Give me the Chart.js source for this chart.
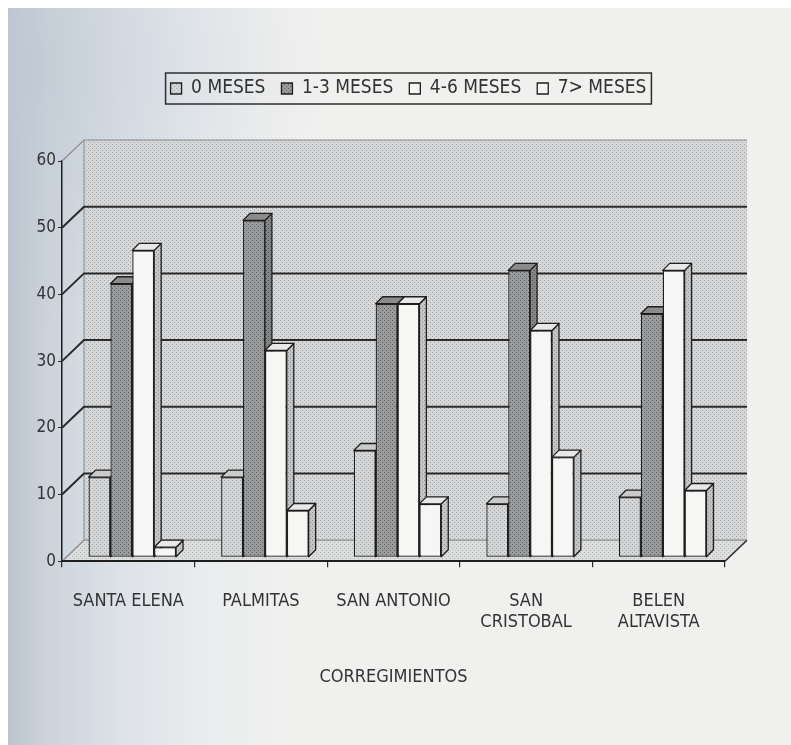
<!DOCTYPE html>
<html>
<head>
<meta charset="utf-8">
<title>Corregimientos</title>
<script src="https://cdn.jsdelivr.net/npm/chart.js@4.4.0/dist/chart.umd.min.js"></script>
<style>
  html, body { margin: 0; padding: 0; background: #fff; }
  #bg {
    position: absolute; left: 8px; top: 8px; right: 0; bottom: 0;
    background:
      radial-gradient(ellipse 320px 260px at 0px 60px, rgba(190, 200, 212, 0.55), rgba(190, 200, 212, 0) 100%),
      linear-gradient(90deg, #bcc4ce 0px, #ccd3db 40px, #dde2e8 110px, #e9ecee 190px, #f0f0ef 280px, #f0f0ef 100%);
  }
  #box { position: absolute; left: 0; top: 0; width: 791px; height: 745px; }
</style>
</head>
<body>
<div id="bg"></div>
<div id="box"><canvas id="chart"></canvas></div>
<script>
const categories = ['SANTA ELENA', 'PALMITAS', 'SAN ANTONIO', ['SAN', 'CRISTOBAL'], ['BELEN', 'ALTAVISTA']];
const seriesNames = ['0 MESES', '1-3 MESES', '4-6 MESES', '7> MESES'];
const meses0 = [12, 12, 16, 8, 9];
const meses1a3 = [41, 50.5, 38, 43, 36.5];
const meses4a6 = [46, 31, 38, 34, 43];
const meses7mas = [1.5, 7, 8, 15, 10];
const yTicks = [0, 10, 20, 30, 40, 50, 60];

const FONT = "'Liberation Sans Narrow', 'Arial Narrow', 'DejaVu Sans Condensed', sans-serif";
const INK = '#333';

// wall depth (front axis -> back wall) and bar offset inside that depth
const WALL_DX = 22, WALL_DY = -21;
const BAR_SHIFT_X = 4, BAR_SHIFT_Y = -4;
const BAR_DX = 7, BAR_DY = -7;
const LEGEND_SHIFT = 36;

// little halftone tiles, the printed look of the shading
function dots(base, dot) {
    const c = document.createElement('canvas');
    c.width = 4; c.height = 4;
    const g = c.getContext('2d');
    g.fillStyle = base;
    g.fillRect(0, 0, 4, 4);
    g.fillStyle = dot;
    g.fillRect(0, 0, 1, 1);
    g.fillRect(2, 2, 1, 1);
    return g.createPattern(c, 'repeat');
}

const wallFill = dots('#d6d7d8', '#a0a2a4');
const floorFill = dots('#dcdddd', '#b4b5b6');
const fronts = [dots('#d4d5d6', '#a2a3a4'), dots('#9a9b9c', '#5c5d5e'), '#f6f6f4', '#f6f6f4'];
const sides = [dots('#b8b9ba', '#858687'), dots('#858687', '#4a4b4c'), dots('#c4c5c6', '#8e8f90'), dots('#c4c5c6', '#8e8f90')];
const tops = ['#c9cacb', '#8a8b8c', '#e8e8e6', '#e8e8e6'];

const walls3d = {
    id: 'walls3d',
    beforeDatasetsDraw(chart) {
        const { ctx, chartArea: a, scales: { y } } = chart;
        const L = a.left, R = a.right, T = a.top, B = a.bottom;
        ctx.save();
        ctx.fillStyle = wallFill;
        ctx.fillRect(L + WALL_DX, T + WALL_DY, R - L, B - T);
        ctx.beginPath();
        ctx.moveTo(L, B - 1);
        ctx.lineTo(R, B - 1);
        ctx.lineTo(R + WALL_DX, B + WALL_DY);
        ctx.lineTo(L + WALL_DX, B + WALL_DY);
        ctx.closePath();
        ctx.fillStyle = floorFill;
        ctx.fill();

        // left edge of the back wall
        ctx.strokeStyle = '#8a8c8e';
        ctx.lineWidth = 1;
        ctx.beginPath();
        ctx.moveTo(L + WALL_DX, T + WALL_DY);
        ctx.lineTo(L + WALL_DX, B + WALL_DY);
        ctx.stroke();

        // gridlines: slanted on the side wall, flat on the back wall
        yTicks.forEach(v => {
            const py = y.getPixelForValue(v);
            const edge = v === 0 || v === 60;
            ctx.strokeStyle = edge ? '#8a8c8e' : '#2a2a2a';
            ctx.lineWidth = edge ? 1.2 : 2;
            ctx.beginPath();
            ctx.moveTo(L, py);
            ctx.lineTo(L + WALL_DX, py + WALL_DY);
            ctx.lineTo(R + WALL_DX, py + WALL_DY);
            ctx.stroke();
        });

        // right end of the floor
        ctx.strokeStyle = '#2a2a2a';
        ctx.lineWidth = 1.5;
        ctx.beginPath();
        ctx.moveTo(R, B);
        ctx.lineTo(R + WALL_DX, B + WALL_DY);
        ctx.stroke();
        ctx.restore();

        // bars sit a little behind the front edge; draw their tops and sides first
        ctx.save();
        ctx.translate(BAR_SHIFT_X, BAR_SHIFT_Y);
        ctx.strokeStyle = '#1e1e1e';
        ctx.lineWidth = 1.3;
        ctx.lineJoin = 'round';
        chart.data.datasets.forEach((ds, i) => {
            chart.getDatasetMeta(i).data.forEach(bar => {
                const { x, y: top, base, width } = bar.getProps(['x', 'y', 'base', 'width'], true);
                const r = x + width / 2, l = x - width / 2;
                ctx.beginPath();
                ctx.moveTo(r, top);
                ctx.lineTo(r + BAR_DX, top + BAR_DY);
                ctx.lineTo(r + BAR_DX, base + BAR_DY);
                ctx.lineTo(r, base);
                ctx.closePath();
                ctx.fillStyle = sides[i];
                ctx.fill();
                ctx.stroke();
                ctx.beginPath();
                ctx.moveTo(l, top);
                ctx.lineTo(l + BAR_DX, top + BAR_DY);
                ctx.lineTo(r + BAR_DX, top + BAR_DY);
                ctx.lineTo(r, top);
                ctx.closePath();
                ctx.fillStyle = tops[i];
                ctx.fill();
                ctx.stroke();
            });
        });
    },
    afterDatasetsDraw(chart) {
        chart.ctx.restore();
    }
};

// legend row sits a bit right of centre, inside a frame
const legendFrame = {
    id: 'legendFrame',
    afterLayout(chart) {
        chart.legend.left += LEGEND_SHIFT;
        chart.legend.right += LEGEND_SHIFT;
    },
    afterDraw(chart) {
        const boxes = chart.legend.legendHitBoxes;
        if (!boxes.length) return;
        const left = Math.min(...boxes.map(b => b.left)) - 5;
        const right = Math.max(...boxes.map(b => b.left + b.width)) + 5;
        const top = Math.min(...boxes.map(b => b.top)) - 6;
        const bottom = Math.max(...boxes.map(b => b.top + b.height)) + 6;
        const ctx = chart.ctx;
        ctx.save();
        ctx.strokeStyle = '#2e2e2e';
        ctx.lineWidth = 1.5;
        ctx.strokeRect(left, top, right - left, bottom - top);
        ctx.restore();
    }
};

const seriesData = [meses0, meses1a3, meses4a6, meses7mas];

new Chart(document.getElementById('chart'), {
    type: 'bar',
    data: {
        labels: categories,
        datasets: seriesNames.map((name, i) => ({
            label: name,
            data: seriesData[i],
            backgroundColor: fronts[i],
            borderColor: '#1e1e1e',
            borderWidth: 1.3,
            borderSkipped: false,
            categoryPercentage: 0.66,
            barPercentage: 1.0
        }))
    },
    options: {
        responsive: true,
        maintainAspectRatio: false,
        animation: false,
        layout: { padding: { left: 20, right: 66, top: 63, bottom: 53 } },
        plugins: {
            tooltip: { enabled: false },
            legend: {
                position: 'top',
                labels: {
                    color: INK,
                    font: { family: FONT, size: 19 },
                    boxWidth: 11,
                    boxHeight: 11,
                    padding: 16
                }
            },
            // empty spacer between the legend and the plot
            title: {
                display: true,
                text: '',
                weight: 500,
                font: { size: 1, lineHeight: 1 },
                padding: { top: 0, bottom: 52 }
            }
        },
        scales: {
            x: {
                grid: { display: true, drawOnChartArea: false, drawTicks: true, tickLength: 6, color: '#2a2a2a', lineWidth: 1.2 },
                border: { display: true, color: '#1e1e1e', width: 2, z: 1 },
                ticks: { color: INK, font: { family: FONT, size: 18 }, padding: 23, maxRotation: 0, autoSkip: false },
                title: {
                    display: true,
                    text: 'CORREGIMIENTOS',
                    color: INK,
                    font: { family: FONT, size: 18 },
                    padding: { top: 10, bottom: 4 }
                }
            },
            y: {
                min: 0,
                max: 60,
                afterFit: s => { s.width = 42; },
                grid: { drawOnChartArea: false, drawTicks: true, tickLength: 4, color: '#2a2a2a' },
                border: { display: true, color: '#1e1e1e', width: 1.5 },
                ticks: { stepSize: 10, color: INK, font: { family: FONT, size: 17 }, padding: 2 }
            }
        }
    },
    plugins: [walls3d, legendFrame]
});
</script>
</body>
</html>
